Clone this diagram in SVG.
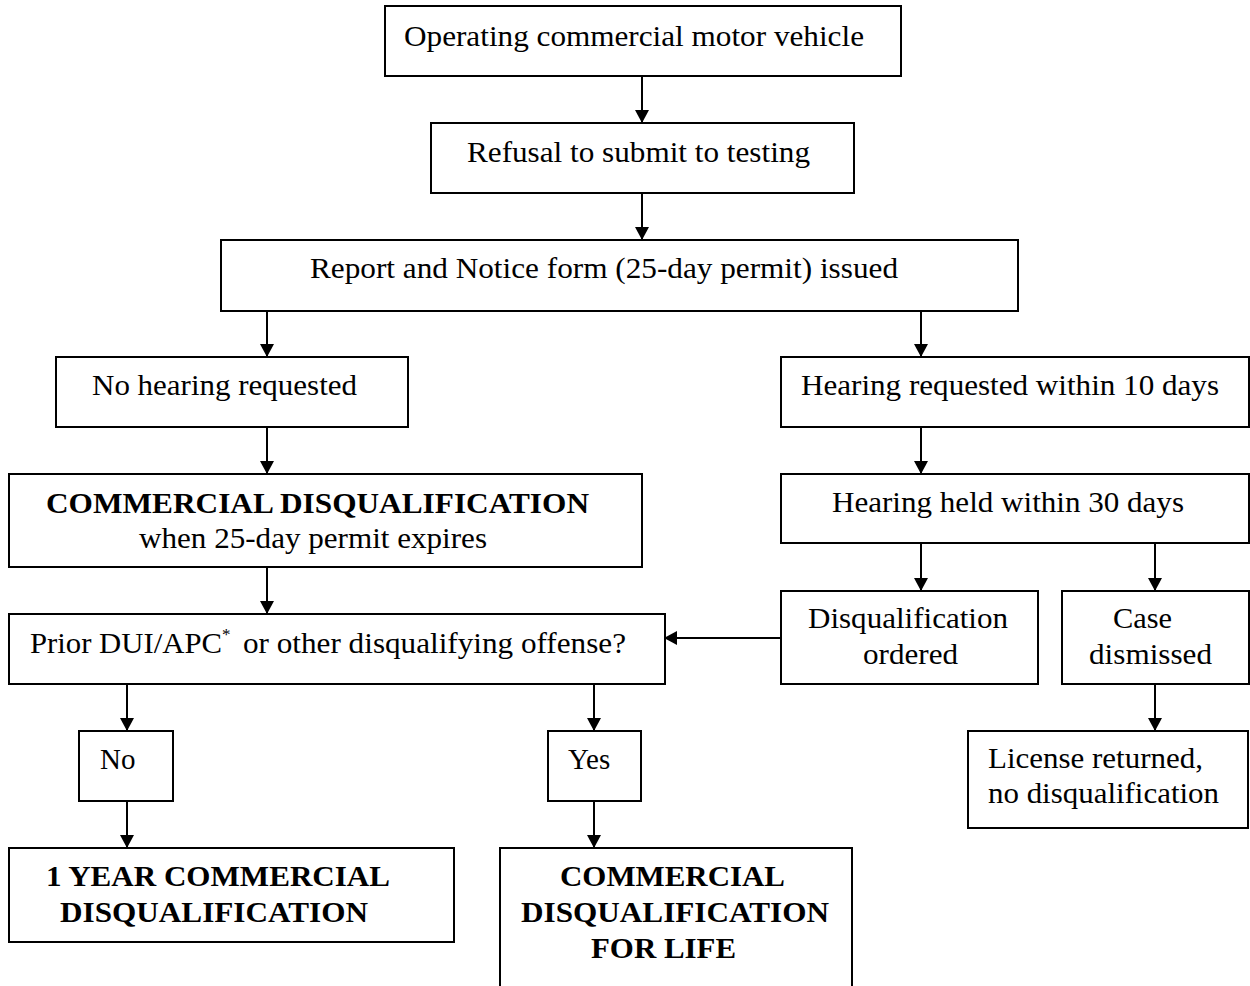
<svg xmlns="http://www.w3.org/2000/svg" width="1250" height="986" viewBox="0 0 1250 986">
<style>
.box{fill:#fff;stroke:#000;stroke-width:2}
.t{font-family:"Liberation Serif","Times New Roman",serif;font-size:29px;fill:#000}
.b{font-weight:bold}
.sup{font-size:17px}
.c{stroke:#000;stroke-width:2;fill:none}
</style>
<defs>
<marker id="ah" markerWidth="13" markerHeight="14" refX="13" refY="7" orient="auto" markerUnits="userSpaceOnUse">
<path d="M0,0 L13,7 L0,14 Z" fill="#000"/>
</marker>
</defs>
<rect width="1250" height="986" fill="#fff"/>
<g id="connectors">
<path class="c" d="M642,77 V123" marker-end="url(#ah)"/>
<path class="c" d="M642,193 V240" marker-end="url(#ah)"/>
<path class="c" d="M267,311 V357" marker-end="url(#ah)"/>
<path class="c" d="M921,311 V357" marker-end="url(#ah)"/>
<path class="c" d="M267,427 V474" marker-end="url(#ah)"/>
<path class="c" d="M921,427 V474" marker-end="url(#ah)"/>
<path class="c" d="M267,567 V614" marker-end="url(#ah)"/>
<path class="c" d="M921,543 V591" marker-end="url(#ah)"/>
<path class="c" d="M1155,543 V591" marker-end="url(#ah)"/>
<path class="c" d="M781,638 H664" marker-end="url(#ah)"/>
<path class="c" d="M1155,684 V731" marker-end="url(#ah)"/>
<path class="c" d="M127,684 V731" marker-end="url(#ah)"/>
<path class="c" d="M594,684 V731" marker-end="url(#ah)"/>
<path class="c" d="M127,801 V848" marker-end="url(#ah)"/>
<path class="c" d="M594,801 V848" marker-end="url(#ah)"/>
</g>
<g id="n1"><rect class="box" x="385" y="6" width="516" height="70"/><text class="t" x="404" y="46" textLength="460" lengthAdjust="spacingAndGlyphs">Operating commercial motor vehicle</text></g>
<g id="n2"><rect class="box" x="431" y="123" width="423" height="70"/><text class="t" x="467" y="162" textLength="343" lengthAdjust="spacingAndGlyphs">Refusal to submit to testing</text></g>
<g id="n3"><rect class="box" x="221" y="240" width="797" height="71"/><text class="t" x="310" y="278" textLength="588" lengthAdjust="spacingAndGlyphs">Report and Notice form (25-day permit) issued</text></g>
<g id="n4"><rect class="box" x="56" y="357" width="352" height="70"/><text class="t" x="92" y="395" textLength="265" lengthAdjust="spacingAndGlyphs">No hearing requested</text></g>
<g id="n5"><rect class="box" x="781" y="357" width="468" height="70"/><text class="t" x="801" y="395" textLength="418" lengthAdjust="spacingAndGlyphs">Hearing requested within 10 days</text></g>
<g id="n6"><rect class="box" x="9" y="474" width="633" height="93"/><text class="t b" x="46" y="513" textLength="543" lengthAdjust="spacingAndGlyphs">COMMERCIAL DISQUALIFICATION</text><text class="t" x="139" y="548" textLength="348" lengthAdjust="spacingAndGlyphs">when 25-day permit expires</text></g>
<g id="n7"><rect class="box" x="781" y="474" width="468" height="69"/><text class="t" x="832" y="512" textLength="352" lengthAdjust="spacingAndGlyphs">Hearing held within 30 days</text></g>
<g id="n8"><rect class="box" x="9" y="614" width="656" height="70"/><text class="t" x="30" y="653" textLength="192" lengthAdjust="spacingAndGlyphs">Prior DUI/APC</text><text class="t sup" x="222" y="640">*</text><text class="t" x="243" y="653" textLength="383" lengthAdjust="spacingAndGlyphs">or other disqualifying offense?</text></g>
<g id="n9"><rect class="box" x="781" y="591" width="257" height="93"/><text class="t" x="808" y="628" textLength="200" lengthAdjust="spacingAndGlyphs">Disqualification</text><text class="t" x="863" y="664" textLength="95" lengthAdjust="spacingAndGlyphs">ordered</text></g>
<g id="n10"><rect class="box" x="1062" y="591" width="187" height="93"/><text class="t" x="1113" y="628" textLength="59" lengthAdjust="spacingAndGlyphs">Case</text><text class="t" x="1089" y="664" textLength="123" lengthAdjust="spacingAndGlyphs">dismissed</text></g>
<g id="n11"><rect class="box" x="79" y="731" width="94" height="70"/><text class="t" x="100" y="769">No</text></g>
<g id="n12"><rect class="box" x="548" y="731" width="93" height="70"/><text class="t" x="568" y="769">Yes</text></g>
<g id="n13"><rect class="box" x="968" y="731" width="280" height="97"/><text class="t" x="988" y="768" textLength="215" lengthAdjust="spacingAndGlyphs">License returned,</text><text class="t" x="988" y="803" textLength="231" lengthAdjust="spacingAndGlyphs">no disqualification</text></g>
<g id="n14"><rect class="box" x="9" y="848" width="445" height="94"/><text class="t b" x="46" y="886" textLength="344" lengthAdjust="spacingAndGlyphs">1 YEAR COMMERCIAL</text><text class="t b" x="60" y="922" textLength="308" lengthAdjust="spacingAndGlyphs">DISQUALIFICATION</text></g>
<g id="n15"><path class="box" d="M500,990 V848 H852 V990"/><text class="t b" x="560" y="886" textLength="225" lengthAdjust="spacingAndGlyphs">COMMERCIAL</text><text class="t b" x="521" y="922" textLength="308" lengthAdjust="spacingAndGlyphs">DISQUALIFICATION</text><text class="t b" x="591" y="958" textLength="145" lengthAdjust="spacingAndGlyphs">FOR LIFE</text></g>
</svg>
